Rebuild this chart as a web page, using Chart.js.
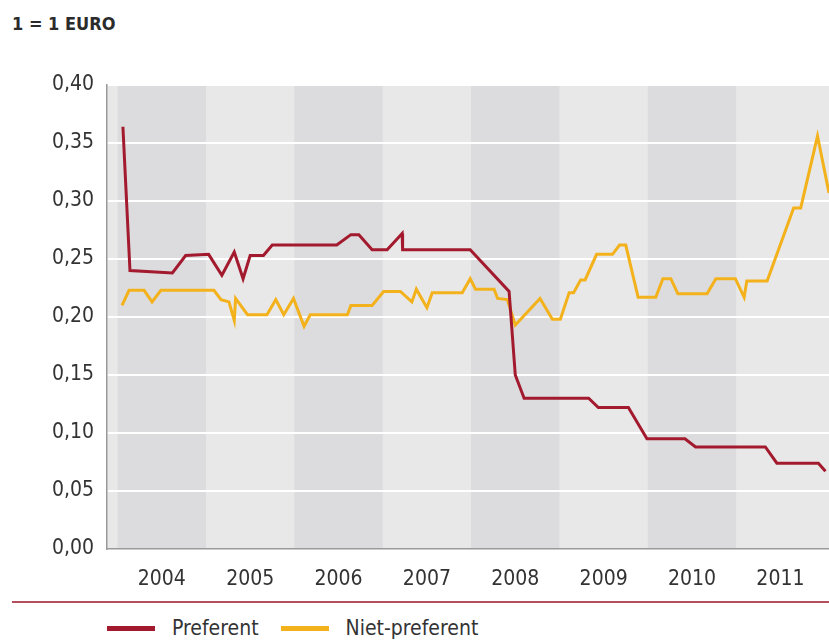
<!DOCTYPE html>
<html lang="nl">
<head>
  <meta charset="UTF-8" />
  <title>Preferent / Niet-preferent</title>
  <script src="https://cdn.jsdelivr.net/npm/chart.js"></script>
  <style>
    body { margin: 0; background: #fff; }
    #wrap { position: relative; width: 829px; height: 641px; font-family: 'Liberation Sans Narrow', 'DejaVu Sans Condensed', sans-serif; color: #333; }
    #titel { position: absolute; left: 12px; top: 13px; font-size: 18px; font-weight: bold; color: #2b2b2b; }
    #box { position: absolute; left: 0; top: 0; width: 829px; height: 600px; }
    #lijn { position: absolute; left: 12px; top: 601px; width: 817px; border-top: 2px solid #b4505e; }
    #legenda { position: absolute; left: 107px; top: 616px; font-size: 21px; display: flex; align-items: center; }
    #legenda span.item { display: flex; align-items: center; margin-right: 22px; }
    #legenda i { display: inline-block; width: 48px; height: 5px; margin-right: 17px; }
  </style>
</head>
<body>
  <div id="wrap">
    <div id="titel">1 = 1 EURO</div>
    <div id="box"><canvas id="grafiek"></canvas></div>
    <div id="lijn"></div>
    <div id="legenda"></div>
  </div>

  <script>
    const jaren = [2004, 2005, 2006, 2007, 2008, 2009, 2010, 2011];
    const yTicks = [0, 0.05, 0.10, 0.15, 0.20, 0.25, 0.30, 0.35, 0.40];
    const reeksen = ['Preferent', 'Niet-preferent'];

    // tijd in decimale jaren
    const prefX = [2004.06, 2004.14, 2004.62, 2004.77, 2005.03, 2005.18, 2005.32, 2005.42, 2005.50, 2005.65,
      2005.75, 2006.48, 2006.64, 2006.73, 2006.88, 2007.05, 2007.22, 2007.225, 2007.99, 2008.43,
      2008.50, 2008.60, 2009.33, 2009.44, 2009.78, 2009.99, 2010.42, 2010.54, 2011.33, 2011.46,
      2011.93, 2012.01];
    const prefY = [0.364, 0.240, 0.238, 0.253, 0.254, 0.236, 0.256, 0.233, 0.253, 0.253,
      0.262, 0.262, 0.271, 0.271, 0.258, 0.258, 0.272, 0.258, 0.258, 0.222,
      0.150, 0.130, 0.130, 0.122, 0.122, 0.095, 0.095, 0.088, 0.088, 0.074,
      0.074, 0.067];

    const nietX = [2004.05, 2004.13, 2004.30, 2004.39, 2004.49, 2005.09, 2005.17, 2005.26, 2005.32, 2005.335,
      2005.47, 2005.69, 2005.79, 2005.88, 2005.99, 2006.11, 2006.18, 2006.60, 2006.64, 2006.88,
      2007.01, 2007.20, 2007.33, 2007.38, 2007.50, 2007.56, 2007.90, 2007.99, 2008.05, 2008.26,
      2008.30, 2008.41, 2008.50, 2008.78, 2008.92, 2009.01, 2009.11, 2009.16, 2009.24, 2009.29,
      2009.42, 2009.60, 2009.68, 2009.75, 2009.89, 2010.09, 2010.17, 2010.26, 2010.34, 2010.67,
      2010.77, 2010.99, 2011.09, 2011.12, 2011.35, 2011.65, 2011.73, 2011.92, 2012.05];
    const nietY = [0.210, 0.223, 0.223, 0.213, 0.223, 0.223, 0.215, 0.213, 0.197, 0.216,
      0.202, 0.202, 0.215, 0.202, 0.216, 0.192, 0.202, 0.202, 0.210, 0.210,
      0.222, 0.222, 0.213, 0.224, 0.208, 0.221, 0.221, 0.233, 0.224, 0.224,
      0.216, 0.215, 0.193, 0.216, 0.198, 0.198, 0.221, 0.221, 0.232, 0.232,
      0.254, 0.254, 0.262, 0.262, 0.217, 0.217, 0.233, 0.233, 0.220, 0.220,
      0.233, 0.233, 0.217, 0.231, 0.231, 0.294, 0.294, 0.356, 0.307];

    const kleuren = ['#a31a2e', '#f3b21b'];
    const lettertype = "'Liberation Sans Narrow', 'DejaVu Sans Condensed', sans-serif";

    // legenda
    let html = '';
    reeksen.forEach((naam, i) => {
      html += `<span class="item"><i style="background:${kleuren[i]}"></i>${naam}</span>`;
    });
    document.getElementById('legenda').innerHTML = html;

    // afwisselende grijze jaarbanden
    const banden = {
      id: 'banden',
      beforeDraw(chart) {
        const { ctx, chartArea: a, scales: { x } } = chart;
        ctx.save();
        ctx.fillStyle = '#e8e8e8';
        ctx.fillRect(a.left, a.top, a.right - a.left, a.bottom - a.top);
        ctx.fillStyle = '#dcdcdf';
        jaren.forEach((j, i) => {
          if (i % 2 === 0) {
            const x0 = x.getPixelForValue(j);
            const x1 = x.getPixelForValue(j + 1);
            ctx.fillRect(x0, a.top, x1 - x0, a.bottom - a.top);
          }
        });
        ctx.restore();
      }
    };

    const ctx = document.getElementById('grafiek').getContext('2d');
    new Chart(ctx, {
      type: 'line',
      data: {
        datasets: [
          {
            label: reeksen[0],
            data: prefX.map((x, i) => ({ x: x, y: prefY[i] })),
            borderColor: kleuren[0],
            borderWidth: 3,
            pointRadius: 0,
            tension: 0
          },
          {
            label: reeksen[1],
            data: nietX.map((x, i) => ({ x: x, y: nietY[i] })),
            borderColor: kleuren[1],
            borderWidth: 3,
            pointRadius: 0,
            tension: 0
          }
        ]
      },
      options: {
        responsive: true,
        maintainAspectRatio: false,
        animation: false,
        layout: { padding: { top: 85, left: 0, right: 0, bottom: 0 } },
        plugins: {
          legend: { display: false },
          tooltip: { enabled: false }
        },
        scales: {
          x: {
            type: 'linear',
            min: 2003.88,
            max: 2012.05,
            afterBuildTicks: scale => { scale.ticks = jaren.map(j => ({ value: j + 0.5 })); },
            afterFit: scale => { scale.height = 51; },
            grid: { display: false },
            border: { color: '#9a9a9a', width: 1.5 },
            ticks: {
              autoSkip: false,
              maxRotation: 0,
              padding: 10,
              color: '#333',
              font: { family: lettertype, size: 21 },
              callback: v => Math.floor(v)
            }
          },
          y: {
            min: 0,
            max: 0.4,
            afterBuildTicks: scale => { scale.ticks = yTicks.map(v => ({ value: v })); },
            afterFit: scale => { scale.width = 107; },
            grid: {
              color: c => (c.tick.value === 0 ? 'rgba(0,0,0,0)' : '#ffffff'),
              lineWidth: 2,
              drawTicks: false
            },
            border: { color: '#9a9a9a', width: 1.5 },
            ticks: {
              padding: 13,
              color: '#333',
              font: { family: lettertype, size: 21 },
              callback: v => v.toFixed(2).replace('.', ',')
            }
          }
        }
      },
      plugins: [banden]
    });
  </script>
</body>
</html>
